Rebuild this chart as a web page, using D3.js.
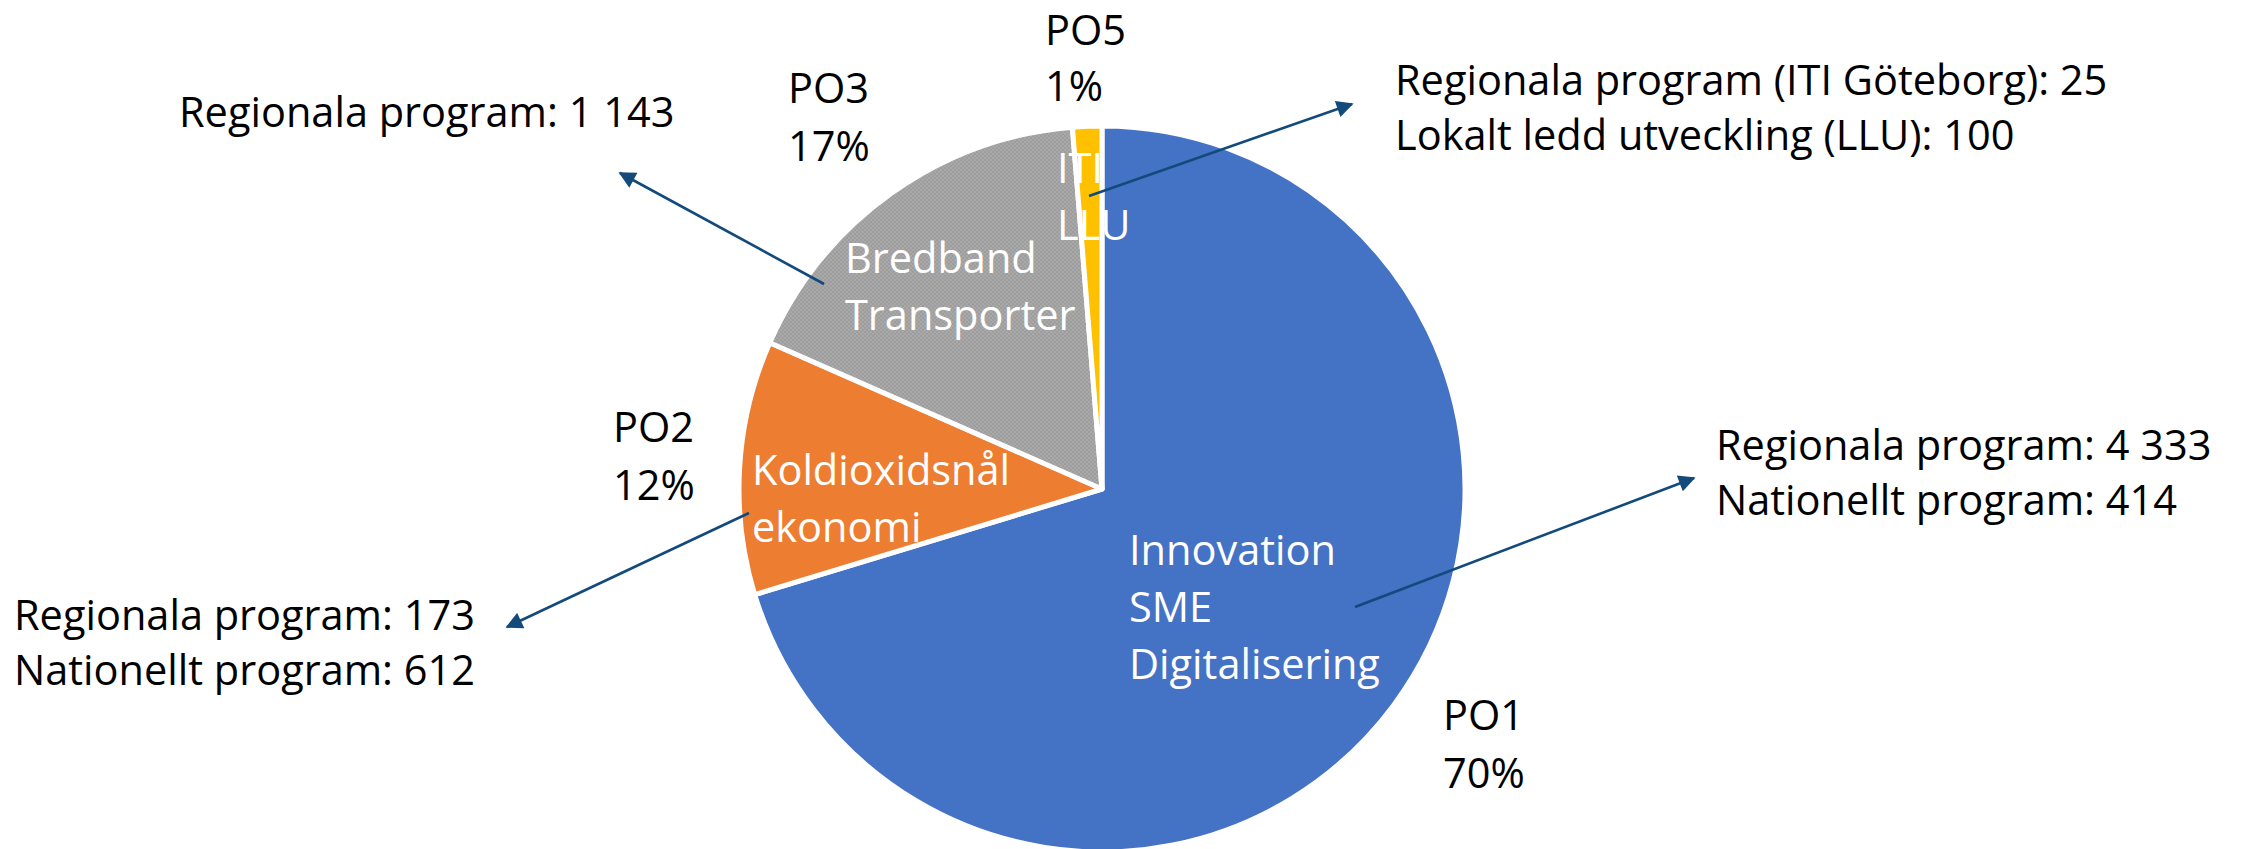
<!DOCTYPE html>
<html lang="sv">
<head>
	<meta charset="UTF-8">
	<title>Fördelning per politiskt mål</title>
	<script type="text/javascript" src="https://cdn.jsdelivr.net/npm/d3@7/dist/d3.min.js"></script>
	<style>
		body {
			margin: 0;
			background: #fff;
		}

		svg text {
			font-family: "Open Sans";
			font-size: 41.5px;
		}
	</style>
</head>
<body>
<div id="chart"></div>

<script type="text/javascript">
	// data
	var slices = ['PO1', 'PO2', 'PO3', 'PO5'];
	var shares = [70.3, 11.3, 17.1, 1.3];
	var pctLabels = ['70%', '12%', '17%', '1%'];
	var themes = [
		['Innovation', 'SME', 'Digitalisering'],
		['Koldioxidsnål', 'ekonomi'],
		['Bredband', 'Transporter'],
		['ITI', 'LLU']
	];
	var programs = [
		['Regionala program: 4 333', 'Nationellt program: 414'],
		['Regionala program: 173', 'Nationellt program: 612'],
		['Regionala program: 1 143'],
		['Regionala program (ITI Göteborg): 25', 'Lokalt ledd utveckling (LLU): 100']
	];
	var colors = ['#4472C4', '#ED7D31', '#A5A5A5', '#FFC000'];

	// where the labels and call-out arrows go
	var layout = [
		{name: [1443, 730], nameGap: 58, theme: [1129, 565], prog: [1716, 460], arrow: [[1355, 607], [1694, 478]]},
		{name: [613, 442], nameGap: 58, theme: [752, 485], prog: [14, 630], arrow: [[749, 513], [507, 627]]},
		{name: [788, 103], nameGap: 58, theme: [845, 273], prog: [179, 127], arrow: [[824, 284], [620, 173]]},
		{name: [1045, 45], nameGap: 56, theme: [1057, 183], prog: [1395, 95], arrow: [[1089, 196], [1352, 104]]}
	];

	var width = 2241, height = 849;
	var cx = 1102, cy = 489, radius = 363;
	var lineH = 57;

	var svg = d3.select('#chart')
		.append('svg')
		.attr('width', width)
		.attr('height', height);

	var defs = svg.append('defs');

	// gray slice has a dithered look in the original
	var pat = defs.append('pattern')
		.attr('id', 'dither')
		.attr('width', 4)
		.attr('height', 4)
		.attr('patternUnits', 'userSpaceOnUse');
	pat.append('rect').attr('width', 4).attr('height', 4).attr('fill', '#a9a9a9');
	pat.append('rect').attr('width', 2).attr('height', 2).attr('fill', '#9d9d9d');
	pat.append('rect').attr('x', 2).attr('y', 2).attr('width', 2).attr('height', 2).attr('fill', '#9d9d9d');

	defs.append('marker')
		.attr('id', 'head')
		.attr('viewBox', '0 0 10 10')
		.attr('refX', 9)
		.attr('refY', 5)
		.attr('markerWidth', 7)
		.attr('markerHeight', 6.5)
		.attr('markerUnits', 'strokeWidth')
		.attr('orient', 'auto')
		.append('path')
		.attr('d', 'M0,0 L10,5 L0,10 Z')
		.attr('fill', '#134A7C');

	var data = slices.map(function (d, i) {
		return {name: d, value: shares[i], color: colors[i], i: i};
	});

	var pie = d3.pie()
		.sort(null)
		.value(function (d) {
			return d.value;
		});

	var arc = d3.arc()
		.innerRadius(0)
		.outerRadius(radius);

	var g = svg.append('g')
		.attr('transform', 'translate(' + cx + ',' + cy + ')');

	g.selectAll('.slice')
		.data(pie(data))
		.enter().append('path')
		.attr('class', 'slice')
		.attr('d', arc)
		.attr('fill', function (d) {
			return d.data.name === 'PO3' ? 'url(#dither)' : d.data.color;
		})
		.attr('stroke', '#fff')
		.attr('stroke-width', 5)
		.attr('stroke-linejoin', 'round');

	// white theme text inside the slices
	themes.forEach(function (lines, i) {
		var p = layout[i].theme;
		lines.forEach(function (t, k) {
			svg.append('text')
				.attr('x', p[0])
				.attr('y', p[1] + k * lineH)
				.attr('fill', '#fff')
				.text(t);
		});
	});

	// call-out arrows
	layout.forEach(function (l) {
		svg.append('line')
			.attr('x1', l.arrow[0][0])
			.attr('y1', l.arrow[0][1])
			.attr('x2', l.arrow[1][0])
			.attr('y2', l.arrow[1][1])
			.attr('stroke', '#134A7C')
			.attr('stroke-width', 2.6)
			.attr('marker-end', 'url(#head)');
	});

	// PO name + percent
	slices.forEach(function (s, i) {
		var p = layout[i].name;
		[s, pctLabels[i]].forEach(function (t, k) {
			svg.append('text')
				.attr('x', p[0])
				.attr('y', p[1] + k * layout[i].nameGap)
				.attr('fill', '#000')
				.text(t);
		});
	});

	// program amounts
	programs.forEach(function (lines, i) {
		var p = layout[i].prog;
		lines.forEach(function (t, k) {
			svg.append('text')
				.attr('x', p[0])
				.attr('y', p[1] + k * 55)
				.attr('fill', '#000')
				.text(t);
		});
	});
</script>
</body>
</html>
